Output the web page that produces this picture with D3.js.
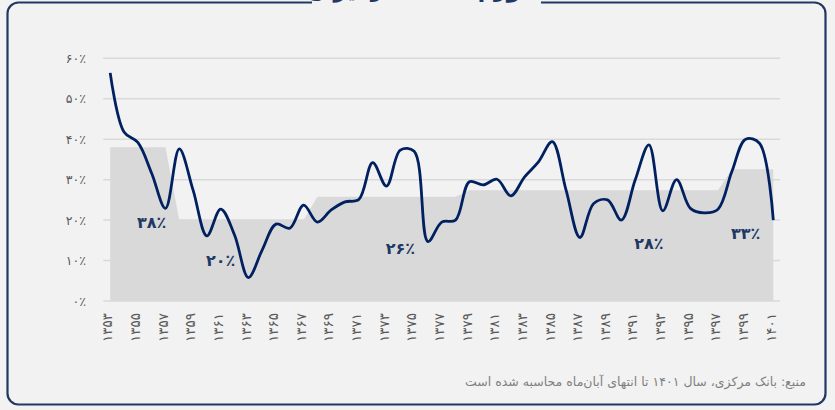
<!DOCTYPE html>
<html><head><meta charset="utf-8">
<script src="https://cdn.jsdelivr.net/npm/d3@7"></script>
<style>
html,body{margin:0;padding:0;background:#f2f2f2;}
svg{display:block;font-family:"DejaVu Sans",sans-serif;}
</style></head>
<body><svg id="c" width="835" height="410"></svg>
<script>
// ---- data ----
const years = [1353,1354,1355,1356,1357,1358,1359,1360,1361,1362,1363,1364,1365,1366,1367,1368,1369,1370,1371,1372,1373,1374,1375,1376,1377,1378,1379,1380,1381,1382,1383,1384,1385,1386,1387,1388,1389,1390,1391,1392,1393,1394,1395,1396,1397,1398,1399,1400,1401];
const inflation = [56.4,41.8,39.2,31.6,22.9,37.6,27.4,16.1,22.7,16.3,5.8,12.6,19.0,18.0,23.7,19.5,22.5,24.5,25.1,34.2,28.4,37.3,37.0,14.7,19.5,20.0,29.5,28.7,30.1,26.0,30.7,34.4,39.4,27.4,15.7,24.1,25.0,20.0,29.9,38.6,22.3,30.0,22.9,21.8,22.7,32.0,40.0,39.0,20.0];
const periodStart = [1353,1358,1368,1379,1398];
const periodEnd   = [1357,1367,1378,1397,1401];
const periodAvg   = [38,20,25.8,27.4,32.6];
const periodLabel = ["۳۸٪","۲۰٪","۲۶٪","۲۸٪","۳۳٪"];
const labelYear   = [1356,1361,1374,1392,1399];
const labelAt     = [19.5,10.1,13.0,14.3,16.8];
const yTicks = [0,10,20,30,40,50,60];
const xTickYears = years.filter((y,i)=>i%2===0);
const title = "تورم سالانه در ایران";
const source = "منبع: بانک مرکزی، سال ۱۴۰۱ تا انتهای آبان‌ماه محاسبه شده است";

const fa = s => String(s).replace(/\d/g, d => "۰۱۲۳۴۵۶۷۸۹"[d]);

// per-year period average
const avgByYear = years.map(y => {
  const k = periodStart.findIndex((s,j)=> y>=s && y<=periodEnd[j]);
  return periodAvg[k];
});

const svg = d3.select("#c");
const W = 835, H = 410;

// frame
svg.append("rect").attr("x",0).attr("y",0).attr("width",W).attr("height",H).attr("fill","#f2f2f2");
svg.append("rect").attr("x",7.5).attr("y",2.5).attr("width",818).attr("height",402)
  .attr("rx",11).attr("fill","none").attr("stroke","#1f3864").attr("stroke-width",2.2);
svg.append("rect").attr("x",312).attr("y",0).attr("width",229).attr("height",7).attr("fill","#f2f2f2");
svg.append("text").attr("x",418).attr("y",-3).attr("text-anchor","middle")
  .attr("font-size",22).attr("font-weight","bold").attr("fill","#1f3864").text(title);

// scales
const x = d3.scalePoint().domain(years).range([110.2,773.3]);
const step = x.step();
const y = d3.scaleLinear().domain([0,60]).range([301,58.3]);

// gridlines
svg.append("g").selectAll("line").data(yTicks).join("line")
  .attr("x1", x(years[0]) - step/2).attr("x2", x(years[years.length-1]) + step/2)
  .attr("y1", d=>y(d)).attr("y2", d=>y(d))
  .attr("stroke","#d9d9d9").attr("stroke-width",1.5);

// area of period averages
const area = d3.area().x((d,i)=>x(years[i])).y0(y(0)).y1(d=>y(d)).curve(d3.curveLinear);
svg.append("path").datum(avgByYear).attr("d",area).attr("fill","#d9d9d9");

// y axis labels
const yAxis = d3.axisLeft(y).tickValues(yTicks).tickFormat(d=>fa(d)+"٪").tickSize(0).tickPadding(0);
const gy = svg.append("g").attr("transform","translate(86,0)").call(yAxis);
gy.select(".domain").remove();
gy.selectAll("text").attr("font-size",12.5).attr("fill","#595959").attr("font-family","DejaVu Sans");

// x axis labels
const xAxis = d3.axisBottom(x).tickValues(xTickYears).tickFormat(d=>fa(d)).tickSize(0).tickPadding(0);
const gx = svg.append("g").attr("transform","translate(-3,313)").call(xAxis);
gx.select(".domain").remove();
gx.selectAll("text").attr("font-size",13.5).attr("fill","#595959").attr("font-family","DejaVu Sans")
  .attr("transform","rotate(-90)").attr("text-anchor","end").attr("x",0).attr("y",0).attr("dy","0.35em");

// line
const line = d3.line().x((d,i)=>x(years[i])).y(d=>y(d)).curve(d3.curveCatmullRom.alpha(0.5));
svg.append("path").datum(inflation).attr("d",line).attr("fill","none")
  .attr("stroke","#002060").attr("stroke-width",2.8).attr("stroke-linejoin","round");

// period labels
svg.append("g").selectAll("text").data(periodLabel).join("text")
  .attr("x",(d,i)=>x(labelYear[i])).attr("y",(d,i)=>y(labelAt[i])).attr("dy","0.35em")
  .attr("text-anchor","middle").attr("font-size",16).attr("font-weight","bold")
  .attr("fill","#203864").text(d=>d);

// source
svg.append("text").attr("x",806).attr("y",382).attr("dy","0.35em")
  .attr("direction","rtl").attr("text-anchor","start")
  .attr("font-size",12.5).attr("fill","#808080").text(source);
</script></body></html>
